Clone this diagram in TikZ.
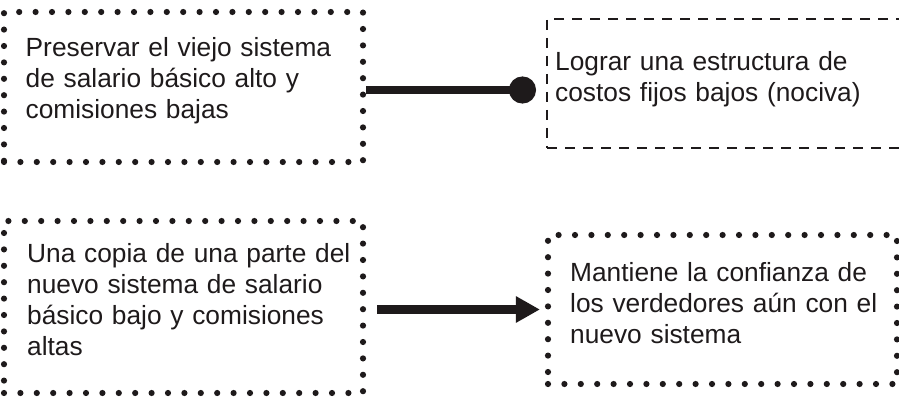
\documentclass[tikz,border=0pt]{standalone}
\usepackage{fontspec}
\setmainfont{Liberation Sans}
\usetikzlibrary{arrows.meta}
\definecolor{ink}{RGB}{30,26,27}
\begin{document}
\begin{tikzpicture}[x=1pt,y=-1pt,line join=round,font=\fontsize{26.3}{31}\selectfont,text=ink,
dotbox/.style={draw=ink,line width=6.2pt,line cap=round,dash pattern=on 0pt off 16.4pt,inner sep=0pt},
dashbox/.style={draw=ink,line width=2pt,dash pattern=on 10pt off 8pt,inner sep=0pt},
txt/.style={anchor=base west,inner sep=0pt,text width=340pt,align=left},
link/.style={draw=ink,line width=8.5pt}]
\useasboundingbox (0,0) rectangle (899,406);
%\draw[gray!30] (0,0) grid[step=50] (899,406);
\node[dotbox,minimum width=359pt,minimum height=150pt] (pres) at (183.5,87) {};
\node[dashbox,minimum width=358pt,minimum height=129pt] (lograr) at (726,83.5) {};
\node[dotbox,minimum width=359pt,minimum height=172pt] (copia) at (183.5,307) {};
\node[dotbox,minimum width=349pt,minimum height=149pt] (mant) at (722.5,309.5) {};
\node[txt] (presT) at (25.5,57) {Preservar el viejo sistema\\ de salario básico alto y\\ comisiones bajas};
\node[txt] (lograrT) at (555,71) {Lograr una estructura de\\ costos fijos bajos (nociva)};
\node[txt] (copiaT) at (27,262) {Una copia de una parte del\\ nuevo sistema de salario\\ básico bajo y comisiones\\ altas};
\node[txt] (mantT) at (570,281) {Mantiene la confianza de\\ los verdedores aún con el\\ nuevo sistema};
\path (pres.east) ++(0,3) coordinate (presR);
\draw[link,-{Circle[length=27pt]},shorten >=10pt] (presR) -- (presR -| lograr.west);
\draw[link,-{Triangle[length=24pt,width=25pt]},shorten <=11pt,shorten >=5pt] (copia.east |- mant.west) -- (mant.west);
\end{tikzpicture}
\end{document}
